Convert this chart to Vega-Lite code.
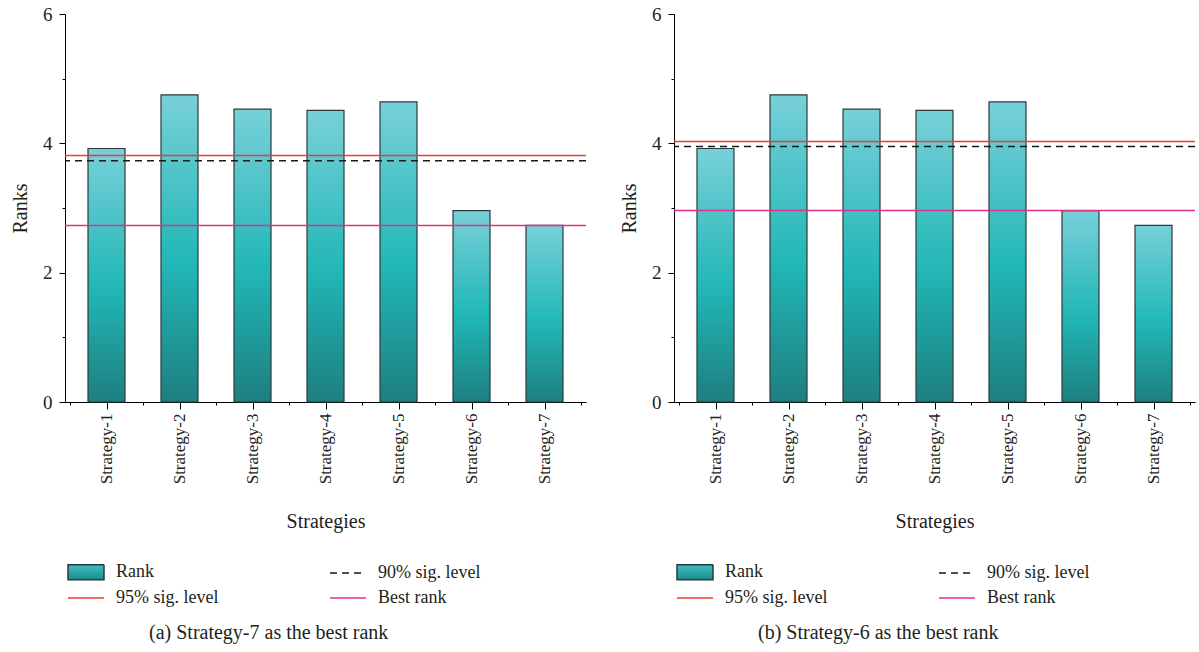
{
  "$schema": "https://vega.github.io/schema/vega-lite/v6.json",
  "padding": {"left": 10, "top": 5, "right": 0, "bottom": 5},
  "background": "white",
  "config": {
    "font": "Liberation Serif",
    "view": {"stroke": null},
    "concat": {"spacing": 30},
    "axis": {
      "domainColor": "#000000",
      "tickColor": "#000000",
      "labelColor": "#231f20",
      "titleColor": "#231f20",
      "grid": false,
      "labelFont": "Liberation Serif",
      "titleFont": "Liberation Serif",
      "titleFontWeight": "normal",
      "titleFontSize": 20,
      "domainWidth": 1,
      "tickWidth": 1
    },
    "legend": {"labelFont": "Liberation Serif"},
    "title": {"font": "Liberation Serif", "fontSize": 20, "fontWeight": "normal", "color": "#231f20"}
  },
  "datasets": {
    "bars": [
      {"panel": "a", "strategy": "Strategy-1", "idx": 1, "rank": 3.92},
      {"panel": "a", "strategy": "Strategy-2", "idx": 2, "rank": 4.75},
      {"panel": "a", "strategy": "Strategy-3", "idx": 3, "rank": 4.53},
      {"panel": "a", "strategy": "Strategy-4", "idx": 4, "rank": 4.51},
      {"panel": "a", "strategy": "Strategy-5", "idx": 5, "rank": 4.64},
      {"panel": "a", "strategy": "Strategy-6", "idx": 6, "rank": 2.96},
      {"panel": "a", "strategy": "Strategy-7", "idx": 7, "rank": 2.73},
      {"panel": "b", "strategy": "Strategy-1", "idx": 1, "rank": 3.92},
      {"panel": "b", "strategy": "Strategy-2", "idx": 2, "rank": 4.75},
      {"panel": "b", "strategy": "Strategy-3", "idx": 3, "rank": 4.53},
      {"panel": "b", "strategy": "Strategy-4", "idx": 4, "rank": 4.51},
      {"panel": "b", "strategy": "Strategy-5", "idx": 5, "rank": 4.64},
      {"panel": "b", "strategy": "Strategy-6", "idx": 6, "rank": 2.96},
      {"panel": "b", "strategy": "Strategy-7", "idx": 7, "rank": 2.73}
    ],
    "lines": [
      {"panel": "a", "series": "95% sig. level", "value": 3.81},
      {"panel": "a", "series": "90% sig. level", "value": 3.73},
      {"panel": "a", "series": "Best rank", "value": 2.73},
      {"panel": "b", "series": "95% sig. level", "value": 4.03},
      {"panel": "b", "series": "90% sig. level", "value": 3.95},
      {"panel": "b", "series": "Best rank", "value": 2.96}
    ]
  },
  "resolve": {
    "scale": {"stroke": "independent", "strokeDash": "independent"},
    "legend": {"stroke": "independent", "strokeDash": "independent"}
  },
  "hconcat": [
    {
      "width": 521,
      "height": 388,
      "title": {"text": "(a)  Strategy-7 as the best rank", "orient": "bottom", "anchor": "start", "frame": "group", "dx": 84, "offset": 16},
      "layer": [
        {
          "data": {"name": "bars"},
          "transform": [{"filter": "datum.panel === 'a'"}],
          "mark": {
            "type": "bar",
            "size": 37,
            "strokeWidth": 1.2,
            "fill": {"gradient": "linear", "x1": 0, "y1": 0, "x2": 0, "y2": 1, "stops": [{"offset": 0, "color": "#78D0D9"}, {"offset": 0.55, "color": "#21B7B6"}, {"offset": 1, "color": "#1E7F80"}]}
          },
          "encoding": {
            "x": {
              "field": "idx", "type": "quantitative",
              "scale": {"domain": [0.5, 7.5], "nice": false, "zero": false},
              "axis": {
                "values": [0.5, 1, 1.5, 2, 2.5, 3, 3.5, 4, 4.5, 5, 5.5, 6, 6.5, 7, 7.5],
                "labelExpr": "datum.value % 1 === 0 ? 'Strategy-' + datum.value : ''",
                "labelAngle": -90, "labelAlign": "right", "labelBaseline": "middle",
                "labelFont": "Liberation Serif", "titleFont": "Liberation Serif",
                "labelFontSize": 17, "labelPadding": 4, "labelOverlap": false,
                "tickSize": {"condition": {"test": "datum.value % 1 !== 0", "value": 3}, "value": 7},
                "title": "Strategies", "titlePadding": 28
              }
            },
            "y": {
              "field": "rank", "type": "quantitative", "title": "Ranks",
              "scale": {"domain": [0, 6], "nice": false},
              "axis": {
                "values": [0, 1, 2, 3, 4, 5, 6],
                "format": "d",
                "labelExpr": "datum.value % 2 === 0 ? datum.label : ''",
                "tickSize": {"condition": {"test": "datum.value % 2 === 1", "value": 3}, "value": 6},
                "labelFont": "Liberation Serif", "titleFont": "Liberation Serif",
                "labelFontSize": 19, "labelPadding": 7, "labelOverlap": false, "titlePadding": 12
              }
            },
            "stroke": {
              "datum": "Rank", "type": "nominal",
              "scale": {"domain": ["Rank", "95% sig. level", "90% sig. level", "Best rank"], "range": ["#2a3b3c", "#ee3b35", "#1a1a1a", "#df318a"]},
              "legend": {
                "title": null, "orient": "none", "legendX": 11, "legendY": 548, "columns": 2, "columnPadding": 108, "rowPadding": 5,
                "symbolSize": 324, "labelOffset": 20, "labelFontSize": 18, "labelFont": "Liberation Serif", "labelColor": "#231f20", "symbolStrokeWidth": 1.5,
                "encode": {"symbols": {"update": {
                  "shape": {"signal": "datum.value === 'Rank' ? 'M-2,-0.83H2V0.83H-2Z' : 'M-2,0H2'"},
                  "fill": {"value": {"gradient": "linear", "x1": 0, "y1": 0, "x2": 0, "y2": 1, "stops": [{"offset": 0, "color": "#3fbfc3"}, {"offset": 1, "color": "#1E8a8a"}]}}
                }}}
              }
            }
          }
        },
        {
          "data": {"name": "lines"},
          "transform": [{"filter": "datum.panel === 'a'"}],
          "mark": {"type": "rule", "strokeWidth": 1.5},
          "encoding": {
            "y": {"field": "value", "type": "quantitative", "title": "Ranks"},
            "stroke": {
              "field": "series", "type": "nominal",
              "scale": {"domain": ["Rank", "95% sig. level", "90% sig. level", "Best rank"], "range": ["#2a3b3c", "#ee3b35", "#1a1a1a", "#df318a"]},
              "legend": {
                "title": null, "orient": "none", "legendX": 11, "legendY": 548, "columns": 2, "columnPadding": 108, "rowPadding": 5,
                "symbolSize": 324, "labelOffset": 20, "labelFontSize": 18, "labelFont": "Liberation Serif", "labelColor": "#231f20", "symbolStrokeWidth": 1.5,
                "encode": {"symbols": {"update": {
                  "shape": {"signal": "datum.value === 'Rank' ? 'M-2,-0.83H2V0.83H-2Z' : 'M-2,0H2'"},
                  "fill": {"value": {"gradient": "linear", "x1": 0, "y1": 0, "x2": 0, "y2": 1, "stops": [{"offset": 0, "color": "#3fbfc3"}, {"offset": 1, "color": "#1E8a8a"}]}}
                }}}
              }
            },
            "strokeDash": {
              "field": "series", "type": "nominal",
              "scale": {"domain": ["Rank", "95% sig. level", "90% sig. level", "Best rank"], "range": [[1, 0], [1, 0], [7, 5], [1, 0]]},
              "legend": {
                "title": null, "orient": "none", "legendX": 11, "legendY": 548, "columns": 2, "columnPadding": 108, "rowPadding": 5,
                "symbolSize": 324, "labelOffset": 20, "labelFontSize": 18, "labelFont": "Liberation Serif", "labelColor": "#231f20", "symbolStrokeWidth": 1.5
              }
            }
          }
        }
      ]
    },
    {
      "width": 521,
      "height": 388,
      "title": {"text": "(b)  Strategy-6 as the best rank", "orient": "bottom", "anchor": "start", "frame": "group", "dx": 84, "offset": 16},
      "layer": [
        {
          "data": {"name": "bars"},
          "transform": [{"filter": "datum.panel === 'b'"}],
          "mark": {
            "type": "bar",
            "size": 37,
            "strokeWidth": 1.2,
            "fill": {"gradient": "linear", "x1": 0, "y1": 0, "x2": 0, "y2": 1, "stops": [{"offset": 0, "color": "#78D0D9"}, {"offset": 0.55, "color": "#21B7B6"}, {"offset": 1, "color": "#1E7F80"}]}
          },
          "encoding": {
            "x": {
              "field": "idx", "type": "quantitative",
              "scale": {"domain": [0.5, 7.5], "nice": false, "zero": false},
              "axis": {
                "values": [0.5, 1, 1.5, 2, 2.5, 3, 3.5, 4, 4.5, 5, 5.5, 6, 6.5, 7, 7.5],
                "labelExpr": "datum.value % 1 === 0 ? 'Strategy-' + datum.value : ''",
                "labelAngle": -90, "labelAlign": "right", "labelBaseline": "middle",
                "labelFont": "Liberation Serif", "titleFont": "Liberation Serif",
                "labelFontSize": 17, "labelPadding": 4, "labelOverlap": false,
                "tickSize": {"condition": {"test": "datum.value % 1 !== 0", "value": 3}, "value": 7},
                "title": "Strategies", "titlePadding": 28
              }
            },
            "y": {
              "field": "rank", "type": "quantitative", "title": "Ranks",
              "scale": {"domain": [0, 6], "nice": false},
              "axis": {
                "values": [0, 1, 2, 3, 4, 5, 6],
                "format": "d",
                "labelExpr": "datum.value % 2 === 0 ? datum.label : ''",
                "tickSize": {"condition": {"test": "datum.value % 2 === 1", "value": 3}, "value": 6},
                "labelFont": "Liberation Serif", "titleFont": "Liberation Serif",
                "labelFontSize": 19, "labelPadding": 7, "labelOverlap": false, "titlePadding": 12
              }
            },
            "stroke": {
              "datum": "Rank", "type": "nominal",
              "scale": {"domain": ["Rank", "95% sig. level", "90% sig. level", "Best rank"], "range": ["#2a3b3c", "#ee3b35", "#1a1a1a", "#df318a"]},
              "legend": {
                "title": null, "orient": "none", "legendX": 11, "legendY": 548, "columns": 2, "columnPadding": 108, "rowPadding": 5,
                "symbolSize": 324, "labelOffset": 20, "labelFontSize": 18, "labelFont": "Liberation Serif", "labelColor": "#231f20", "symbolStrokeWidth": 1.5,
                "encode": {"symbols": {"update": {
                  "shape": {"signal": "datum.value === 'Rank' ? 'M-2,-0.83H2V0.83H-2Z' : 'M-2,0H2'"},
                  "fill": {"value": {"gradient": "linear", "x1": 0, "y1": 0, "x2": 0, "y2": 1, "stops": [{"offset": 0, "color": "#3fbfc3"}, {"offset": 1, "color": "#1E8a8a"}]}}
                }}}
              }
            }
          }
        },
        {
          "data": {"name": "lines"},
          "transform": [{"filter": "datum.panel === 'b'"}],
          "mark": {"type": "rule", "strokeWidth": 1.5},
          "encoding": {
            "y": {"field": "value", "type": "quantitative", "title": "Ranks"},
            "stroke": {
              "field": "series", "type": "nominal",
              "scale": {"domain": ["Rank", "95% sig. level", "90% sig. level", "Best rank"], "range": ["#2a3b3c", "#ee3b35", "#1a1a1a", "#df318a"]},
              "legend": {
                "title": null, "orient": "none", "legendX": 11, "legendY": 548, "columns": 2, "columnPadding": 108, "rowPadding": 5,
                "symbolSize": 324, "labelOffset": 20, "labelFontSize": 18, "labelFont": "Liberation Serif", "labelColor": "#231f20", "symbolStrokeWidth": 1.5,
                "encode": {"symbols": {"update": {
                  "shape": {"signal": "datum.value === 'Rank' ? 'M-2,-0.83H2V0.83H-2Z' : 'M-2,0H2'"},
                  "fill": {"value": {"gradient": "linear", "x1": 0, "y1": 0, "x2": 0, "y2": 1, "stops": [{"offset": 0, "color": "#3fbfc3"}, {"offset": 1, "color": "#1E8a8a"}]}}
                }}}
              }
            },
            "strokeDash": {
              "field": "series", "type": "nominal",
              "scale": {"domain": ["Rank", "95% sig. level", "90% sig. level", "Best rank"], "range": [[1, 0], [1, 0], [7, 5], [1, 0]]},
              "legend": {
                "title": null, "orient": "none", "legendX": 11, "legendY": 548, "columns": 2, "columnPadding": 108, "rowPadding": 5,
                "symbolSize": 324, "labelOffset": 20, "labelFontSize": 18, "labelFont": "Liberation Serif", "labelColor": "#231f20", "symbolStrokeWidth": 1.5
              }
            }
          }
        }
      ]
    }
  ]
}
